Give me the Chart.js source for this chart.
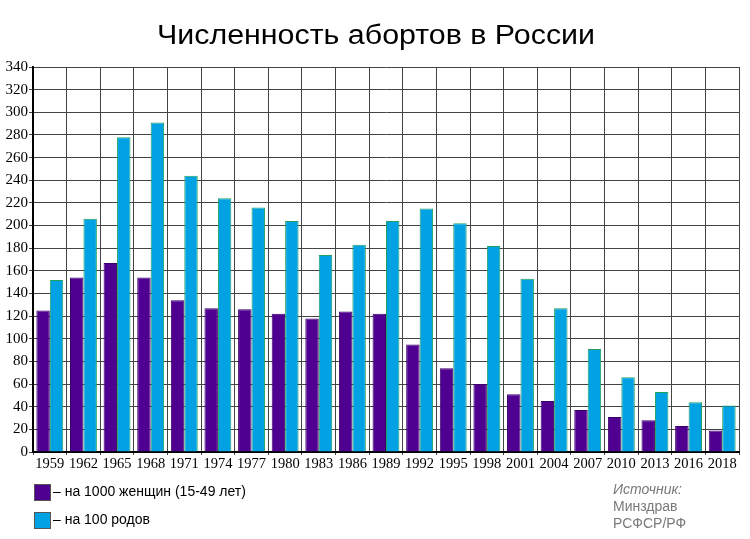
<!DOCTYPE html>
<html>
<head>
<meta charset="utf-8">
<script src="https://cdn.jsdelivr.net/npm/chart.js@4.4.1/dist/chart.umd.min.js"></script>
<style>
  html, body { margin: 0; padding: 0; background: #fff; }
  #wrap { width: 750px; height: 539px; position: relative; }
</style>
</head>
<body>
<div id="wrap"><canvas id="chart"></canvas></div>
<script>
// Данные
const years = ['1959','1962','1965','1968','1971','1974','1977','1980','1983','1986','1989',
               '1992','1995','1998','2001','2004','2007','2010','2013','2016','2018'];
const perWomen = [125, 154, 167, 154, 134, 127, 126, 122, 118, 124, 122,
                  95, 74, 60, 51, 45, 37, 31, 28, 23, 19];
const perBirths = [152, 206, 278, 291, 244, 224, 216, 204, 174, 183, 204,
                   215, 202, 182, 153, 127, 91, 66, 53, 44, 41];
const seriesNames = ['– на 1000 женщин (15-49 лет)', '– на 100 родов'];
const titleText = 'Численность абортов в России';
const sourceLines = ['Источник:', 'Минздрав', 'РСФСР/РФ'];

const purple = '#4f0090';
const blue = '#00a2e3';

// текст, растянутый по горизонтали до нужной ширины (как в оригинале)
function stretchText(ctx, text, x, y, width) {
    const w = ctx.measureText(text).width;
    ctx.save();
    ctx.translate(x, y);
    ctx.scale(width / w, 1);
    ctx.fillText(text, 0, 0);
    ctx.restore();
}

// Заголовок, легенда и подпись источника рисуются прямо на канвасе
const extras = {
    id: 'extras',
    afterDraw(chart) {
        const ctx = chart.ctx;
        ctx.save();
        ctx.fillStyle = '#000';
        ctx.font = '27px "Liberation Sans", Arial, sans-serif';
        ctx.textAlign = 'left';
        ctx.textBaseline = 'alphabetic';
        stretchText(ctx, titleText, 157, 44, 438);

        // легенда
        const colors = [purple, blue];
        ctx.font = '14px "Liberation Sans", Arial, sans-serif';
        [484, 512].forEach((y, i) => {
            ctx.fillStyle = colors[i];
            ctx.fillRect(34, y, 16, 16);
            ctx.strokeStyle = '#555';
            ctx.lineWidth = 1;
            ctx.strokeRect(34.5, y + 0.5, 16, 16);
            ctx.fillStyle = '#000';
            ctx.fillText(seriesNames[i], 53, y + 12);
        });

        // источник
        ctx.fillStyle = '#7a7a7a';
        ctx.font = 'italic 14px "Liberation Sans", Arial, sans-serif';
        ctx.fillText(sourceLines[0], 613, 494);
        ctx.font = '14px "Liberation Sans", Arial, sans-serif';
        ctx.fillText(sourceLines[1], 613, 511);
        ctx.fillText(sourceLines[2], 613, 528);
        ctx.restore();
    }
};

new Chart(document.getElementById('chart'), {
    type: 'bar',
    data: {
        labels: years,
        datasets: [{
            label: seriesNames[0],
            data: perWomen,
            backgroundColor: purple,
            borderColor: '#3a006a',
            borderWidth: 1
        }, {
            label: seriesNames[1],
            data: perBirths,
            backgroundColor: blue,
            borderColor: '#21a060',
            borderWidth: 1
        }]
    },
    options: {
        responsive: true,
        maintainAspectRatio: false,
        animation: false,
        datasets: { bar: { categoryPercentage: 0.8, barPercentage: 1.0 } },
        layout: { padding: { left: 0, right: 11, top: 67, bottom: 65 } },
        plugins: {
            legend: { display: false },
            title: { display: false },
            tooltip: { enabled: false }
        },
        scales: {
            x: {
                grid: { color: '#444', lineWidth: 1, tickLength: 3, offset: true },
                border: { color: '#000', width: 2 },
                ticks: {
                    color: '#000', padding: 0, autoSkip: false, maxRotation: 0,
                    font: { family: '"Liberation Serif", "Times New Roman", serif', size: 14.5 }
                },
                afterFit(scale) { scale.height = 22; }
            },
            y: {
                min: 0, max: 340,
                grid: { color: '#444', lineWidth: 1, tickLength: 4 },
                border: { color: '#000', width: 2 },
                ticks: {
                    stepSize: 20, color: '#000', padding: 1,
                    font: { family: '"Liberation Serif", "Times New Roman", serif', size: 15 }
                },
                afterFit(scale) { scale.width = 33; }
            }
        }
    },
    plugins: [extras]
});
</script>
</body>
</html>
